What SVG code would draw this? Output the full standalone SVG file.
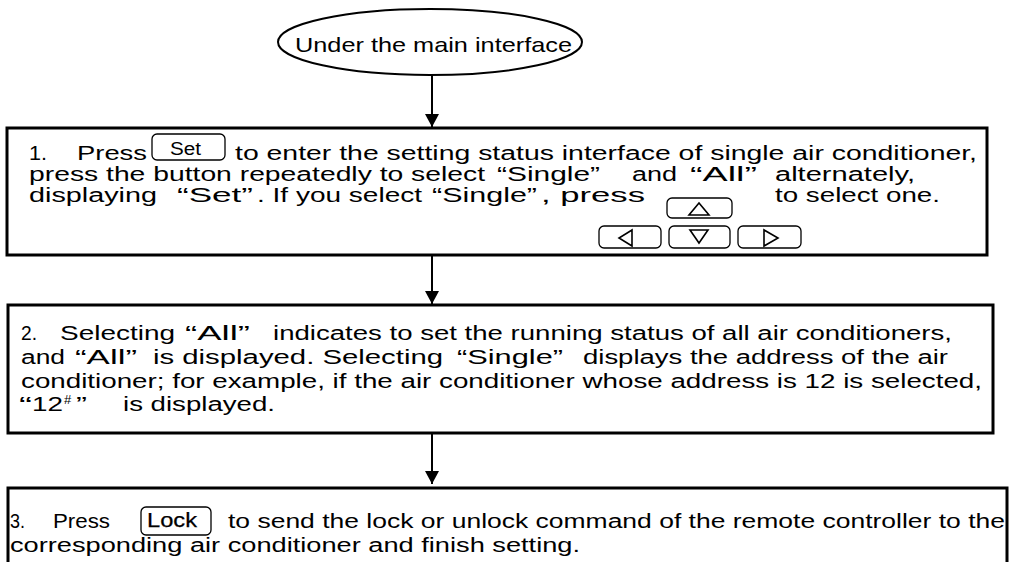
<svg xmlns="http://www.w3.org/2000/svg" width="1009" height="562" viewBox="0 0 1009 562">
<style>
.t{font-family:"Liberation Sans",Arial,sans-serif;font-size:20px;fill:#000}
.s{font-family:"Liberation Sans",Arial,sans-serif;font-size:18px;fill:#000}
.sup{font-family:"Liberation Sans",Arial,sans-serif;font-size:13px;fill:#000}
.box{fill:#fff;stroke:#000;stroke-width:3}
.btn{fill:none;stroke:#000;stroke-width:1.3}
.tri{fill:none;stroke:#000;stroke-width:1.6}
.con{stroke:#000;stroke-width:2;fill:none}
</style>
<defs>
<marker id="ah" markerUnits="userSpaceOnUse" markerWidth="14" markerHeight="14" refX="13" refY="7" orient="auto" viewBox="0 0 14 14">
<path d="M0,0 L13,7 L0,14 Z" fill="#000"/>
</marker>
</defs>
<rect width="1009" height="562" fill="#fff"/>

<g id="connectors">
<line class="con" x1="432" y1="75" x2="432" y2="127" marker-end="url(#ah)"/>
<line class="con" x1="432" y1="256" x2="432" y2="304" marker-end="url(#ah)"/>
<line class="con" x1="432" y1="434" x2="432" y2="484" marker-end="url(#ah)"/>
</g>

<g id="start">
<ellipse cx="430" cy="42" rx="152" ry="33" fill="#fff" stroke="#000" stroke-width="2"/>
<text class="t" x="295" y="52" textLength="277" lengthAdjust="spacingAndGlyphs" style="font-size:21px">Under the main interface</text>
</g>

<g id="step1">
<rect class="box" x="7" y="128" width="980" height="127"/>
<text class="t" x="29" y="160" textLength="18" lengthAdjust="spacingAndGlyphs">1.</text>
<text class="t" x="77" y="160" textLength="70" lengthAdjust="spacingAndGlyphs">Press</text>
<rect class="btn" x="152" y="134" width="73" height="26" rx="5"/>
<text class="s" x="170" y="155" textLength="31" lengthAdjust="spacingAndGlyphs">Set</text>
<text class="t" x="235" y="160" textLength="742" lengthAdjust="spacingAndGlyphs">to enter the setting status interface of single air conditioner,</text>

<text class="t" x="29" y="181" textLength="456" lengthAdjust="spacingAndGlyphs">press the button repeatedly to select</text>
<text class="t" x="497" y="181" textLength="103" lengthAdjust="spacingAndGlyphs">“Single”</text>
<text class="t" x="632" y="181" textLength="45" lengthAdjust="spacingAndGlyphs">and</text>
<text class="t" x="690" y="181" textLength="67" lengthAdjust="spacingAndGlyphs">“All”</text>
<text class="t" x="775" y="181" textLength="140" lengthAdjust="spacingAndGlyphs">alternately,</text>

<text class="t" x="29" y="202" textLength="128" lengthAdjust="spacingAndGlyphs">displaying</text>
<text class="t" x="177" y="202" textLength="76" lengthAdjust="spacingAndGlyphs">“Set”</text>
<text class="t" x="257" y="202" textLength="165" lengthAdjust="spacingAndGlyphs">. If you select</text>
<text class="t" x="432" y="202" textLength="105" lengthAdjust="spacingAndGlyphs">“Single”</text>
<text class="t" x="541" y="202" textLength="104" lengthAdjust="spacingAndGlyphs">, press</text>
<rect class="btn" x="667" y="198" width="65" height="20" rx="5"/>
<path class="tri" d="M689,215 L709,215 L699,203 Z"/>
<text class="t" x="775" y="202" textLength="165" lengthAdjust="spacingAndGlyphs">to select one.</text>

<rect class="btn" x="599" y="226" width="62" height="22" rx="5"/>
<path class="tri" d="M632,230 L632,246 L619,238 Z"/>
<rect class="btn" x="669" y="226" width="61" height="22" rx="5"/>
<path class="tri" d="M690,230 L708,230 L699,243 Z"/>
<rect class="btn" x="738" y="226" width="63" height="22" rx="5"/>
<path class="tri" d="M764,230 L764,246 L778,238 Z"/>
</g>

<g id="step2">
<rect class="box" x="8" y="305" width="985" height="128"/>
<text class="t" x="21" y="340" textLength="16" lengthAdjust="spacingAndGlyphs">2.</text>
<text class="t" x="60" y="340" textLength="115" lengthAdjust="spacingAndGlyphs">Selecting</text>
<text class="t" x="185" y="340" textLength="65" lengthAdjust="spacingAndGlyphs">“All”</text>
<text class="t" x="273" y="340" textLength="679" lengthAdjust="spacingAndGlyphs">indicates to set the running status of all air conditioners,</text>

<text class="t" x="21" y="364" textLength="44" lengthAdjust="spacingAndGlyphs">and</text>
<text class="t" x="75" y="364" textLength="62" lengthAdjust="spacingAndGlyphs">“All”</text>
<text class="t" x="153" y="364" textLength="290" lengthAdjust="spacingAndGlyphs">is displayed. Selecting</text>
<text class="t" x="457" y="364" textLength="106" lengthAdjust="spacingAndGlyphs">“Single”</text>
<text class="t" x="583" y="364" textLength="365" lengthAdjust="spacingAndGlyphs">displays the address of the air</text>

<text class="t" x="21" y="388" textLength="961" lengthAdjust="spacingAndGlyphs">conditioner; for example, if the air conditioner whose address is 12 is selected,</text>

<text class="t" x="19" y="411" textLength="13" lengthAdjust="spacingAndGlyphs">“</text>
<text class="t" x="32" y="411" textLength="31" lengthAdjust="spacingAndGlyphs">12</text>
<text class="sup" x="64" y="404">#</text>
<text class="t" x="76" y="411" textLength="11" lengthAdjust="spacingAndGlyphs">”</text>
<text class="t" x="123" y="411" textLength="152" lengthAdjust="spacingAndGlyphs">is displayed.</text>
</g>

<g id="step3">
<path d="M8,564 L8,488 L1007,488 L1007,564" fill="#fff" stroke="#000" stroke-width="3"/>
<text class="t" x="10" y="528" textLength="15" lengthAdjust="spacingAndGlyphs">3.</text>
<text class="t" x="53" y="528" textLength="57" lengthAdjust="spacingAndGlyphs">Press</text>
<rect class="btn" x="141" y="507" width="70" height="28" rx="5"/>
<text class="t" x="147" y="527" textLength="50" lengthAdjust="spacingAndGlyphs" stroke="#000" stroke-width="0.25">Lock</text>
<text class="t" x="228" y="528" textLength="777" lengthAdjust="spacingAndGlyphs">to send the lock or unlock command of the remote controller to the</text>
<text class="t" x="10" y="552" textLength="570" lengthAdjust="spacingAndGlyphs">corresponding air conditioner and finish setting.</text>
</g>
</svg>
